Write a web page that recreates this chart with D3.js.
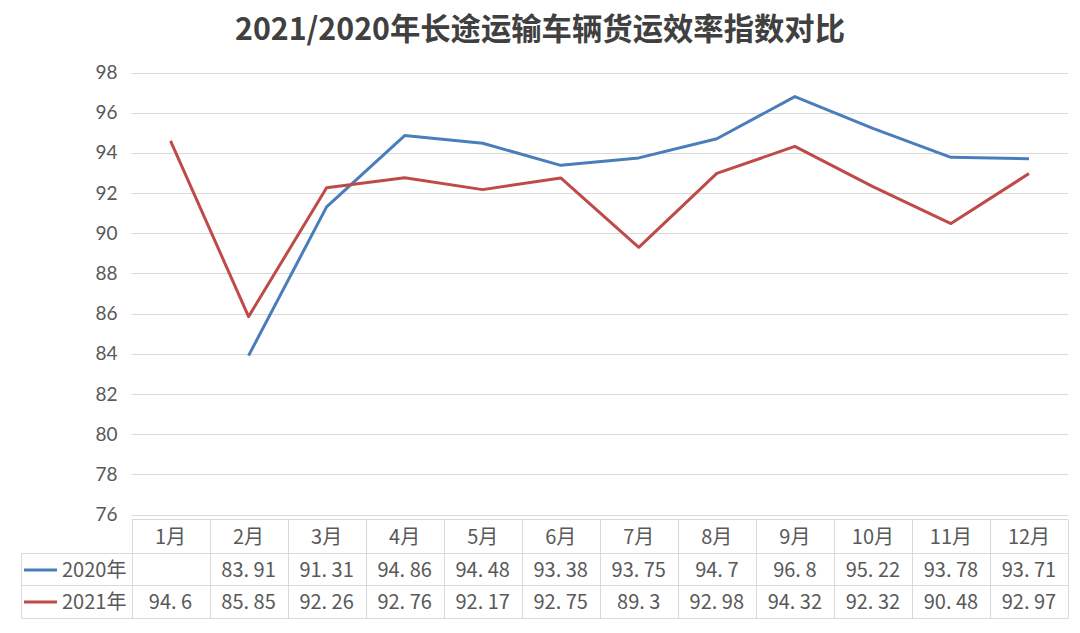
<!DOCTYPE html>
<html><head><meta charset="utf-8">
<script src="https://cdn.jsdelivr.net/npm/d3@7"></script>
<style>body{margin:0;background:#fff}svg{display:block}</style>
</head><body>
<script>
const title = "2021/2020年长途运输车辆货运效率指数对比";
const months = ["1月","2月","3月","4月","5月","6月","7月","8月","9月","10月","11月","12月"];
const series2020 = [null,83.91,91.31,94.86,94.48,93.38,93.75,94.7,96.8,95.22,93.78,93.71];
const series2021 = [94.6,85.85,92.26,92.76,92.17,92.75,89.3,92.98,94.32,92.32,90.48,92.97];
const seriesNames = ["2020年","2021年"];
const colors = ["#4A7EBB","#BE4B48"];
const yTicks = [76,78,80,82,84,86,88,90,92,94,96,98];

(function(){
const W=1080,H=633;
const svg=d3.select("body").append("svg").attr("width",W).attr("height",H);
const pl=131.5,pr=1068,pt=72.5,pb=514.5;
const x=d3.scaleBand().domain(months).range([pl,pr]).padding(0);
const y=d3.scaleLinear().domain([76,98]).range([pb,pt]);

svg.append("text").attr("x",540).attr("y",40).attr("text-anchor","middle")
 .attr("font-family","Noto Sans CJK SC").attr("font-weight","bold").attr("font-size",31)
 .attr("fill","#404040").attr("textLength",610).attr("lengthAdjust","spacingAndGlyphs").text(title);

svg.append("g").selectAll("line").data(yTicks).join("line")
 .attr("x1",pl).attr("x2",pr).attr("y1",d=>Math.round(y(d))+0.5).attr("y2",d=>Math.round(y(d))+0.5)
 .attr("stroke","#d9d9d9").attr("stroke-width",1);
const ya=svg.append("g").attr("transform",`translate(${pl-14},0)`)
 .call(d3.axisLeft(y).tickValues(yTicks).tickSize(0).tickPadding(0));
ya.select(".domain").remove();
ya.selectAll("text").attr("font-family","Lato").attr("font-size",19).attr("fill","#595959");

const sets=[series2020,series2021];
const line=d3.line().defined(d=>d.v!=null).x(d=>x(d.m)+x.bandwidth()/2).y(d=>y(d.v));
sets.forEach((s,i)=>{
  svg.append("path").datum(months.map((m,j)=>({m,v:s[j]})))
   .attr("d",line).attr("fill","none").attr("stroke",colors[i]).attr("stroke-width",3)
   .attr("stroke-linejoin","round");
});

const tLeft=21.5, rows=[519.5,553.5,585.5,618.5];
const g=svg.append("g");
const bc="#d9d9d9";
g.append("line").attr("x1",pl).attr("x2",pr).attr("y1",rows[0]).attr("y2",rows[0]).attr("stroke",bc);
[1,2,3].forEach(r=>g.append("line").attr("x1",tLeft).attr("x2",pr).attr("y1",rows[r]).attr("y2",rows[r]).attr("stroke",bc));
g.append("line").attr("x1",tLeft).attr("x2",tLeft).attr("y1",rows[1]).attr("y2",rows[3]).attr("stroke",bc);
const vx=months.map(m=>x(m)).concat([pr]);
g.selectAll(".v").data(vx).join("line").attr("x1",d=>Math.round(d)+0.5).attr("x2",d=>Math.round(d)+0.5)
 .attr("y1",rows[0]).attr("y2",rows[3]).attr("stroke",bc);
const tf="Noto Sans CJK SC", fs=20;
g.selectAll(".h").data(months).join("text").attr("x",d=>x(d)+x.bandwidth()/2).attr("y",544)
 .attr("text-anchor","middle").attr("font-family",tf).attr("font-size",fs).attr("fill","#595959").text(d=>d);
sets.forEach((s,i)=>{
  const cy=i===0?577:609;
  g.append("line").attr("x1",24).attr("x2",57).attr("y1",cy-7).attr("y2",cy-7).attr("stroke",colors[i]).attr("stroke-width",3);
  g.append("text").attr("x",62).attr("y",cy).attr("font-family",tf).attr("font-size",fs).attr("fill","#595959").text(seriesNames[i]);
  g.selectAll(".r"+i).data(months).join("text").attr("x",d=>x(d)+x.bandwidth()/2).attr("y",cy)
   .attr("text-anchor","middle").attr("font-family",tf).attr("font-size",fs).attr("fill","#595959")
   .text((d,j)=>s[j]==null?"":String(s[j]).replace(".",". "));
});
})();
</script>
</body></html>
